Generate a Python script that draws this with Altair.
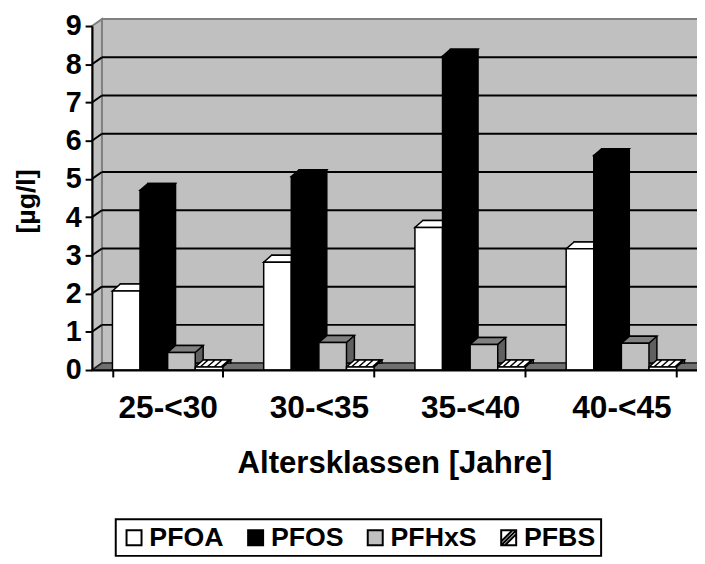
import altair as alt
import pandas as pd

# ---- data ----
groups = ["25-<30", "30-<35", "35-<40", "40-<45"]
series = ["PFOA", "PFOS", "PFHxS", "PFBS"]
pfoa = [2.07, 2.82, 3.73, 3.17]
pfos = [4.70, 5.06, 8.21, 5.61]
pfhxs = [0.46, 0.72, 0.67, 0.70]
pfbs = [0.08, 0.08, 0.08, 0.08]
y_ticks = [0, 1, 2, 3, 4, 5, 6, 7, 8, 9]
grid_values = [1, 2, 3, 4, 5, 6, 7, 8]

# ---- styles ----
front_colors = ["#ffffff", "#000000", "#c0c0c0", "#ffffff"]
top_colors = ["#ffffff", "#000000", "#808080", "#ffffff"]
side_colors = ["#d8d8d8", "#000000", "#606060", "#ffffff"]
outline_colors = ["#000000", "#000000", "#000000", "#000000"]
FONT = "Liberation Sans"

rows = []
for s, vals in zip(series, [pfoa, pfos, pfhxs, pfbs]):
    for g, v in zip(groups, vals):
        rows.append({"group": g, "series": s, "value": v})
df = pd.DataFrame(rows)

# ---- layout ----
W, H = 612, 348
PAD_L, PAD_T = 85, 15
TOTAL_H = 556
DX, DY = 8, 7      # bar depth
WX, WY = 10, 7     # wall depth
P_IN, P_OUT = 0.27, 0.135
step = W / (len(groups) - P_IN + 2 * P_OUT)
BW = step * (1 - P_IN)
bar_w = BW / len(series)
hw = bar_w / 2

top_path = f"M{-hw:.2f},0L{hw:.2f},0L{hw + DX:.2f},{-DY}L{-hw + DX:.2f},{-DY}Z"
hatch = "".join(f"M{-hw + a:.2f},0L{-hw + a + DX:.2f},{-DY}" for a in (5, 12, 19, 26))
top_path_hatched = top_path + hatch
left_wall_path = f"M0,{H}L0,0L{WX},{-WY}L{WX},{H - WY}Z"
floor_path = f"M0,{H}L{W},{H}L{W + WX},{H - WY}L{WX},{H - WY}Z"
legend_hatch = "M-1,-1L1,-1L1,1L-1,1ZM-1,1L1,-1M-1,0.5L0.5,-1M-0.5,1L1,-0.5"

xscale = alt.Scale(domain=groups, paddingInner=P_IN, paddingOuter=P_OUT)
yscale = alt.Scale(domain=[0, 9], nice=False, zero=True)

x_axis = alt.Axis(
    title="Altersklassen [Jahre]", labelAngle=0, tickBand="extent",
    tickSize=7, tickWidth=2, tickColor="black", domainColor="black",
    domainWidth=2, labelFont=FONT, labelFontSize=32, labelFontWeight="bold",
    labelColor="black", labelPadding=16, titleFont=FONT, titleFontSize=31.5,
    titleFontWeight="bold", titleColor="black", titleY=95,
    titleBaseline="middle", grid=False, zindex=1,
)
y_axis = alt.Axis(
    title="[µg/l]", values=y_ticks, tickSize=7, tickWidth=2,
    tickColor="black", domainColor="black", domainWidth=2, labelFont=FONT,
    labelFontSize=29, labelFontWeight="bold", labelColor="black",
    labelPadding=4, titleFont=FONT, titleFontSize=27, titleFontWeight="bold",
    titleColor="black", titleAngle=270, titleX=-66, titleY=177,
    titleBaseline="middle", grid=False, zindex=1,
)

x_enc = alt.X("group:N", scale=xscale, axis=x_axis, sort=groups)
y_enc = alt.Y("value:Q", scale=yscale, axis=y_axis)
one = alt.Data(values=[{"a": 1}])
grid_data = alt.Data(values=[{"value": v} for v in grid_values])

back_wall = alt.Chart(one).mark_rect(
    fill="#c0c0c0", stroke="#808080", strokeWidth=2
).encode(
    x=alt.value(WX), x2=alt.value(W + WX + 10),
    y=alt.value(-WY), y2=alt.value(H - WY),
)
left_wall = alt.Chart(one).mark_point(
    shape=left_wall_path, size=4, filled=True, fill="#c0c0c0",
    stroke="#808080", strokeWidth=2, opacity=1,
).encode(x=alt.value(0), y=alt.value(0))
floor = alt.Chart(one).mark_point(
    shape=floor_path, size=4, filled=True, fill="#707070",
    stroke="#202020", strokeWidth=1.5, opacity=1,
).encode(x=alt.value(0), y=alt.value(0))

grid_diag = alt.Chart(grid_data).mark_rule(
    color="black", strokeWidth=2, y2Offset=-WY
).encode(x=alt.value(0), x2=alt.value(WX), y=y_enc, y2=alt.Y2("value:Q"))
grid_h = alt.Chart(grid_data).mark_rule(
    color="black", strokeWidth=2, yOffset=-WY
).encode(x=alt.value(WX), x2=alt.value(W + WX + 10), y=y_enc)

base = alt.Chart(df)

back_box = base.mark_bar(
    yOffset=-DY, y2Offset=-DY, stroke="black", strokeWidth=1.5
).encode(
    x=x_enc,
    xOffset=alt.XOffset(
        "series:N",
        scale=alt.Scale(type="band", domain=series, range=[DX, BW + DX],
                        paddingInner=0, paddingOuter=0),
    ),
    y=y_enc,
    color=alt.Color("series:N",
                    scale=alt.Scale(domain=series, range=side_colors),
                    legend=None),
)

off_enc = alt.XOffset(
    "series:N",
    scale=alt.Scale(type="band", domain=series, paddingInner=0, paddingOuter=0),
)

# legend carrier: tiny points hidden under the top and front faces drawn later
leg = alt.Legend(
    title=None, orient="none", legendX=24, legendY=499,
    direction="horizontal", symbolOpacity=1, symbolStrokeWidth=2,
)
legend_layer = base.mark_point(
    filled=True, size=2, opacity=1, strokeWidth=2
).encode(
    x=x_enc, xOffset=off_enc, y=y_enc,
    fill=alt.Fill("series:N",
                  scale=alt.Scale(domain=series, range=front_colors),
                  legend=leg),
    stroke=alt.Stroke("series:N",
                      scale=alt.Scale(domain=series, range=outline_colors),
                      legend=leg),
    shape=alt.Shape(
        "series:N",
        scale=alt.Scale(domain=series,
                        range=["square", "square", "square", legend_hatch]),
        legend=leg,
    ),
)

tops = base.transform_filter(alt.datum.series != "PFBS").mark_point(
    shape=top_path, size=4, filled=True, stroke="black", strokeWidth=1.5,
    opacity=1,
).encode(
    x=x_enc, xOffset=off_enc, y=y_enc,
    color=alt.Color("series:N",
                    scale=alt.Scale(domain=series, range=top_colors),
                    legend=None),
)
tops_hatched = base.transform_filter(alt.datum.series == "PFBS").mark_point(
    shape=top_path_hatched, size=4, filled=True, fill="#ffffff",
    stroke="black", strokeWidth=1.5, opacity=1,
).encode(x=x_enc, xOffset=off_enc, y=y_enc)

fronts = base.mark_bar(stroke="black", strokeWidth=1.5).encode(
    x=x_enc, xOffset=off_enc, y=y_enc,
    color=alt.Color("series:N",
                    scale=alt.Scale(domain=series, range=front_colors),
                    legend=None),
)

chart = alt.layer(
    back_wall, left_wall, floor, grid_diag, grid_h,
    back_box, legend_layer, tops, tops_hatched, fronts,
).properties(
    width=W, height=H,
    padding={"left": PAD_L, "top": PAD_T, "right": 0,
             "bottom": TOTAL_H - PAD_T - H},
    autosize=alt.AutoSizeParams(type="none"),
).resolve_scale(
    xOffset="independent", color="independent"
).configure_view(
    strokeWidth=0
).configure_legend(
    strokeColor="black", strokeWidth=2, padding=5,
    labelFont=FONT, labelFontSize=27, labelFontWeight="bold",
    labelColor="black", symbolSize=230, columnPadding=18, labelOffset=2,
    labelLimit=300,
)

chart.save("out.html", embed_options={"renderer": "svg", "actions": False})
